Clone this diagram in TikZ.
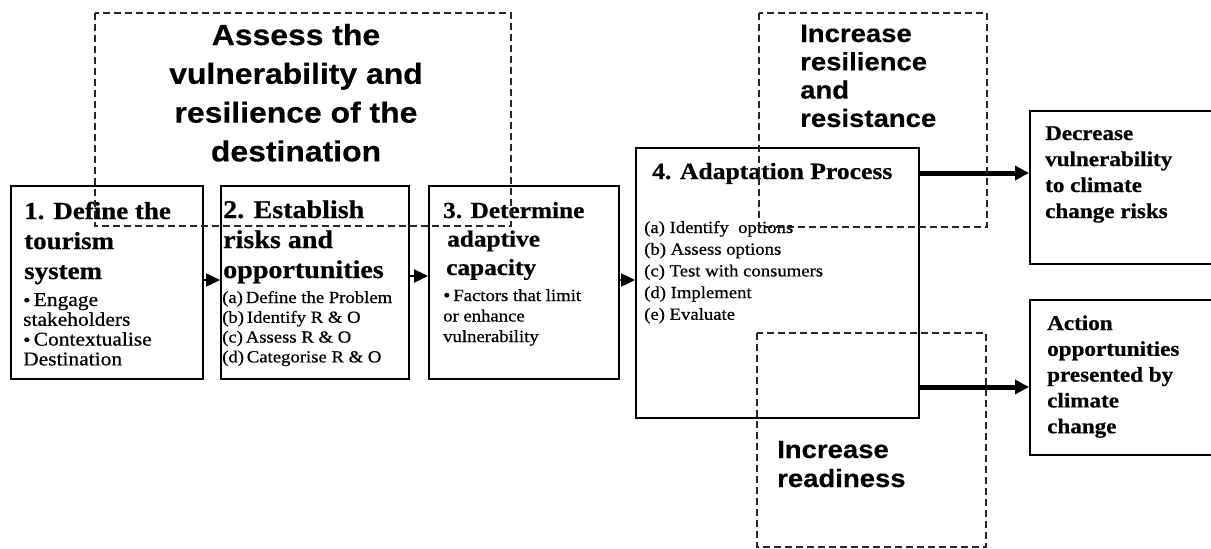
\documentclass[tikz,border=0pt]{standalone}
\usepackage{fontspec}
\setmainfont{Liberation Serif}[FakeStretch=1.1,FakeBold=0.6]
\newfontfamily\headsans{Liberation Sans}[FakeStretch=1.1,FakeBold=0.4]
\usetikzlibrary{arrows.meta}

% stacked lines whose baseline is the baseline of the first line
\newcommand\Lstack[2]{\vtop{\baselineskip=#1\lineskiplimit=-100pt\halign{##\hfil\cr#2\crcr}}}
\newcommand\Cstack[2]{\vtop{\baselineskip=#1\lineskiplimit=-100pt\halign{\hfil##\hfil\cr#2\crcr}}}
\newcommand\bul{{\fontsize{19}{19}\selectfont\raisebox{-0.5pt}{\textbullet}}\,}

\tikzset{
  stage/.style={draw=black, line width=2.4pt, fill=white, inner sep=0pt, anchor=north west},
  zone/.style={draw=black!85, line width=1.9pt, dash pattern=on 7pt off 4pt},
  flow/.style={line width=2.4pt, -{Triangle[length=14pt,width=13pt]}},
  outflow/.style={line width=5pt, -{Triangle[length=14pt,width=14pt]}},
  txt/.style={inner sep=0pt, anchor=base west},
}

\begin{document}
\begin{tikzpicture}[x=1pt,y=-1pt]
\fill[white] (0,0) rectangle (1211,549);
\clip (0,0) rectangle (1211,549);

% stage boxes
\node[stage, minimum width=192pt, minimum height=193pt] (B1) at (10,185) {};
\node[stage, minimum width=188pt, minimum height=193pt] (B2) at (220,185) {};
\node[stage, minimum width=190pt, minimum height=193pt] (B3) at (428,185) {};
\node[stage, minimum width=283pt, minimum height=270pt] (B4) at (635,147) {};
\node[stage, minimum width=200pt, minimum height=153pt] (OD) at (1029,110) {};
\node[stage, minimum width=200pt, minimum height=155pt] (OA) at (1029,299) {};

% connectors
\coordinate (yflow) at (0,280);
\coordinate (ytop) at (0,173);
\coordinate (ybot) at (0,387);
\draw[flow] (B1.east |- yflow) -- (B2.west |- yflow);
\draw[flow] (B2.east |- 0,276) -- (B3.west |- 0,276);
\draw[flow] (B3.east |- yflow) -- (B4.west |- yflow);
\draw[outflow] (B4.east |- ytop) -- (OD.west |- ytop);
\draw[outflow] (B4.east |- ybot) -- (OA.west |- ybot);

% stage texts
\node[txt, font=\bfseries\fontsize{24.5}{30}\selectfont] (t1) at (24,219)
  {\Lstack{30pt}{1. Define the\cr tourism\cr system}};
\node[txt, font=\fontsize{19.5}{20}\selectfont] (s1) at (23,306)
  {\Lstack{19.8pt}{\bul Engage\cr stakeholders\cr \bul Contextualise\cr Destination}};

\node[txt, font=\bfseries\fontsize{25.5}{30}\selectfont] (t2) at (223,218)
  {\Lstack{30pt}{2. Establish\cr risks and\cr opportunities}};
\node[txt, font=\fontsize{17}{20}\selectfont] (s2) at (222,303)
  {\Lstack{19.8pt}{(a)\,Define the Problem\cr (b)\,Identify R \& O\cr (c)\,Assess R \& O\cr (d)\,Categorise R \& O}};

\node[txt, font=\bfseries\fontsize{23}{30}\selectfont] (t3) at (443,218)
  {\Lstack{28.5pt}{3. Determine\cr \hspace{4pt}adaptive\cr \hspace{3pt}capacity}};
\node[txt, font=\fontsize{17}{20}\selectfont] (s3) at (443,301)
  {\Lstack{20.5pt}{\bul Factors that limit\cr or enhance\cr vulnerability}};

\node[txt, font=\bfseries\fontsize{23.3}{30}\selectfont] (t4) at (652,179)
  {4. Adaptation Process};
\node[txt, font=\fontsize{17}{20}\selectfont] (s4) at (644,233)
  {\Lstack{21.7pt}{(a) Identify\ \ options\cr (b) Assess options\cr (c) Test with consumers\cr (d) Implement\cr (e) Evaluate}};

\node[txt, font=\bfseries\fontsize{21}{26}\selectfont] (tD) at (1045,140)
  {\Lstack{26pt}{Decrease\cr vulnerability\cr to climate\cr change risks}};
\node[txt, font=\bfseries\fontsize{21}{26}\selectfont] (tA) at (1047,330)
  {\Lstack{25.8pt}{Action\cr opportunities\cr presented by\cr climate\cr change}};

% dashed zones
\draw[zone] (95,13) rectangle (511,226);
\draw[zone] (759,13) rectangle (987,227);
\draw[zone] (757,333) rectangle (986,547);

\node[inner sep=0pt, anchor=base, font=\headsans\bfseries\fontsize{29}{38}\selectfont] (zA) at (296,45)
  {\Cstack{38.8pt}{Assess the\cr vulnerability and\cr resilience of the\cr destination}};
\node[txt, font=\headsans\bfseries\fontsize{25}{29}\selectfont] (zB) at (800,42)
  {\Lstack{28.3pt}{Increase\cr resilience\cr and\cr resistance}};
\node[txt, font=\headsans\bfseries\fontsize{25}{29}\selectfont] (zC) at (777,458)
  {\Lstack{29pt}{Increase\cr readiness}};
\end{tikzpicture}
\end{document}
